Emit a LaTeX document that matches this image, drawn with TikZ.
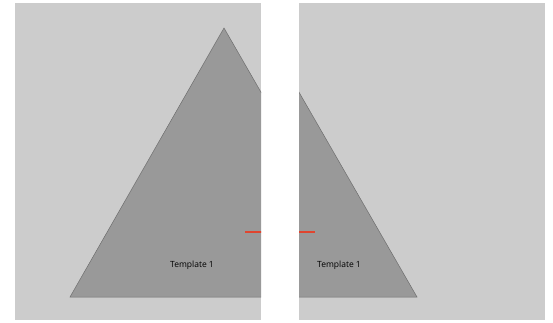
\documentclass[tikz,border=0pt]{standalone}
\usepackage{fontspec}
\setmainfont{Open Sans}
\usetikzlibrary{positioning}
\definecolor{panelgray}{HTML}{CCCCCC}
\definecolor{shapegray}{HTML}{999999}
\definecolor{edgegray}{HTML}{6E6E6E}
\definecolor{cutred}{HTML}{E0452F}
\tikzset{
    tri/.style={fill=shapegray, draw=edgegray, line width=0.5pt},
    cutline/.style={cutred, line width=1.3pt}
}
\begin{document}
\begin{tikzpicture}[x=1pt, y=-1pt, font=\fontsize{8.5}{10}\selectfont]
    \def\gap{38}
    \useasboundingbox (0,0) rectangle (553,322);
    % 面板
    \fill[panelgray] (15,3) rectangle (261,320);
    \fill[panelgray] ({261+\gap},3) rectangle (545,320);
    % 左半
    \begin{scope}
        \clip (15,3) rectangle (261,320);
        \draw[tri] (224,28) -- (379,297) -- (70,297) -- cycle;
        \draw[cutline] (245,232) -- (277,232);
    \end{scope}
    % 右半（整体右移 \gap）
    \begin{scope}
        \clip ({261+\gap},3) rectangle (545,320);
        \draw[tri, shift={(\gap,0)}] (224,28) -- (379,297) -- (70,297) -- cycle;
        \draw[cutline, shift={(\gap,0)}] (245,232) -- (277,232);
    \end{scope}
    % 标签
    \node (tplL) at (192,265) {Template 1};
    \node (tplR) at (339,265) {Template 1};
\end{tikzpicture}
\end{document}
